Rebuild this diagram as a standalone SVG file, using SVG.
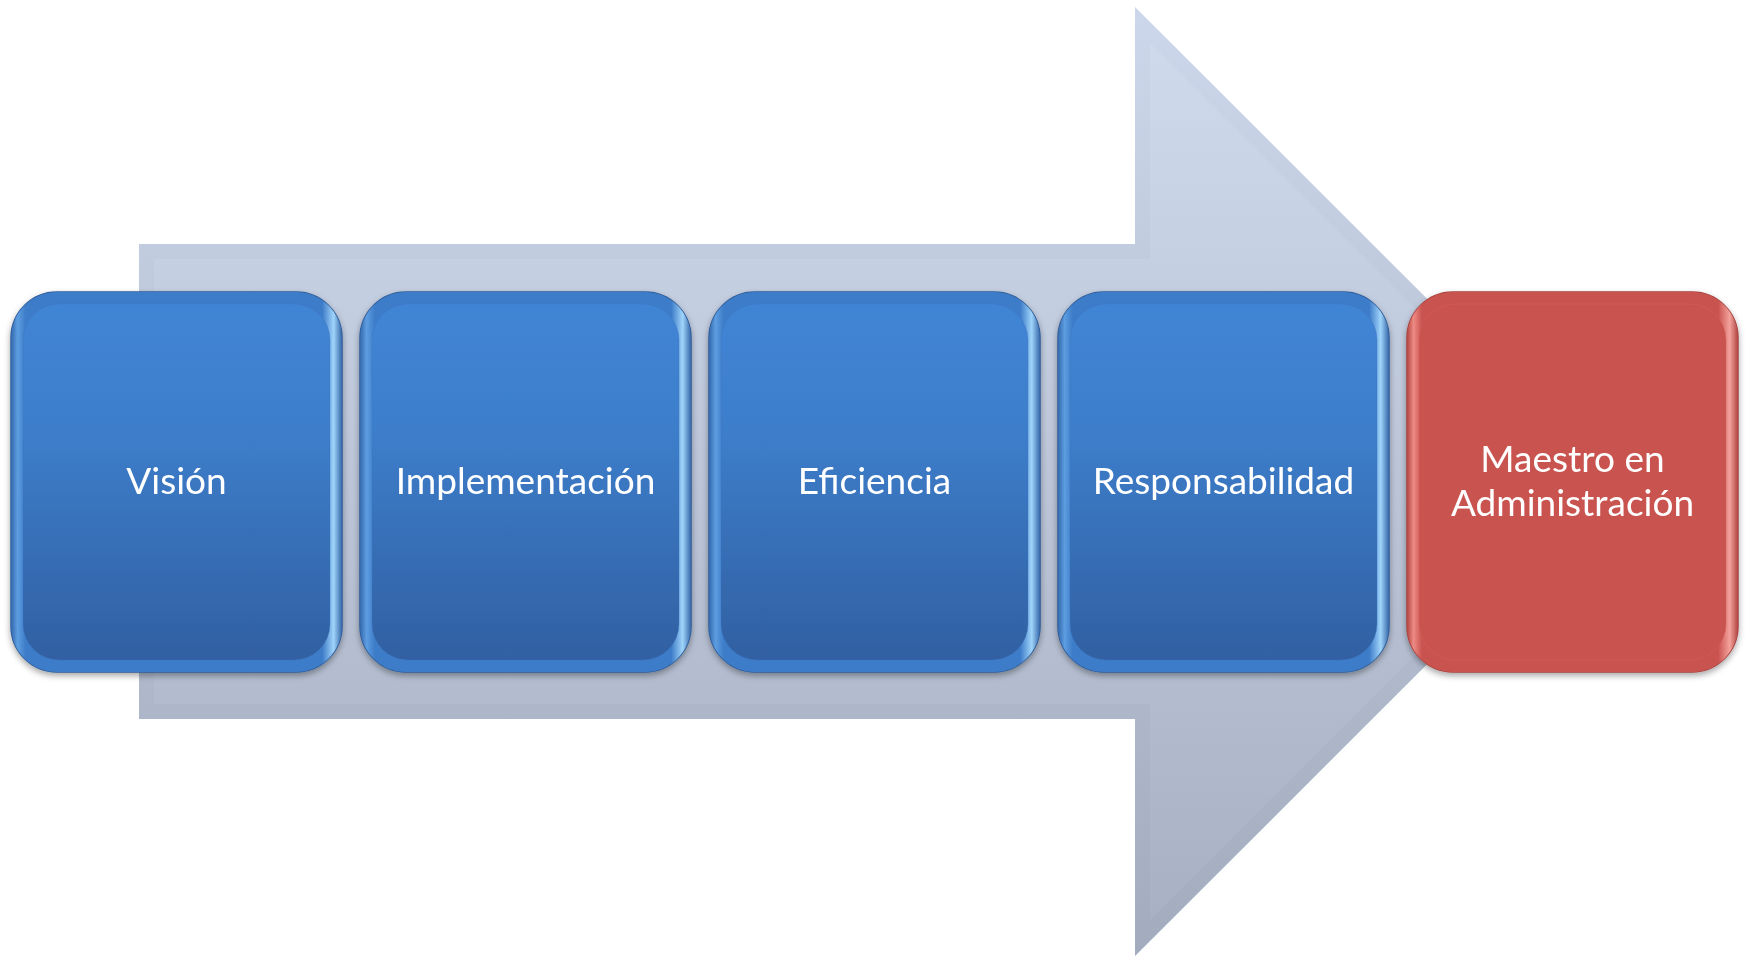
<svg xmlns="http://www.w3.org/2000/svg" width="1750" height="957" viewBox="0 0 1750 957">
<defs>
<style>
.lbl{font-family:Lato,"Open Sans","Liberation Sans",sans-serif;font-size:37px;fill:#ffffff;text-anchor:middle}
.bout{fill:url(#blueV);stroke:#2d5c98;stroke-width:1.5}
.bedge{fill:url(#blueH)}
.bin{fill:url(#blueV);stroke:#3b74bd;stroke-width:1;stroke-opacity:0.35}
.rout{fill:#c4504c;stroke:#a54340;stroke-width:1.5}
.redge{fill:url(#redH)}
.rin{fill:#c9534f;stroke:#d6625d;stroke-width:1;stroke-opacity:0.5}
</style>
<linearGradient id="arrowG" x1="0" y1="7" x2="0" y2="956" gradientUnits="userSpaceOnUse">
<stop offset="0" stop-color="#ccd7eb"/>
<stop offset="1" stop-color="#a3acbe"/>
</linearGradient>
<linearGradient id="arrowIn" x1="0" y1="7" x2="0" y2="956" gradientUnits="userSpaceOnUse">
<stop offset="0" stop-color="#d0dbee"/>
<stop offset="1" stop-color="#a7b0c2"/>
</linearGradient>
<linearGradient id="blueV" x1="0" y1="0" x2="0" y2="1">
<stop offset="0" stop-color="#4185d5"/>
<stop offset="0.35" stop-color="#3d7ecb"/>
<stop offset="1" stop-color="#3160a2"/>
</linearGradient>
<linearGradient id="blueH" x1="0" y1="0" x2="1" y2="0">
<stop offset="0" stop-color="#3468ad"/>
<stop offset="0.02" stop-color="#5d9de0"/>
<stop offset="0.045" stop-color="#3d7bc8"/>
<stop offset="0.94" stop-color="#3d7bc8"/>
<stop offset="0.975" stop-color="#9fd4fa"/>
<stop offset="1" stop-color="#3466a8"/>
</linearGradient>
<linearGradient id="redH" x1="0" y1="0" x2="1" y2="0">
<stop offset="0" stop-color="#b34541"/>
<stop offset="0.02" stop-color="#ee8a84"/>
<stop offset="0.045" stop-color="#c9534f"/>
<stop offset="0.94" stop-color="#c9534f"/>
<stop offset="0.975" stop-color="#f4a29c"/>
<stop offset="1" stop-color="#b04542"/>
</linearGradient>
<filter id="sh" x="-10%" y="-10%" width="120%" height="125%">
<feDropShadow dx="0" dy="3" stdDeviation="3" flood-color="#000000" flood-opacity="0.35"/>
</filter>
</defs>
<rect width="1750" height="957" fill="#ffffff"/>
<g id="connectors">
<polygon points="139,244 1135,244 1135,7 1610,481.5 1135,956 1135,719 139,719" fill="url(#arrowG)"/>
<polygon points="154,259 1150,259 1150,43 1588.5,481.5 1150,920 1150,704 154,704" fill="url(#arrowIn)"/>
</g>
<g id="node-vision" filter="url(#sh)">
<rect class="bout" x="11" y="292" width="331" height="380" rx="46"/>
<rect class="bedge" x="11" y="292" width="331" height="380" rx="46"/>
<rect class="bin" x="23" y="304" width="307" height="356" rx="36"/>
<text class="lbl" x="176.5" y="494">Visión</text>
</g>
<g id="node-implementacion" filter="url(#sh)">
<rect class="bout" x="360" y="292" width="331" height="380" rx="46"/>
<rect class="bedge" x="360" y="292" width="331" height="380" rx="46"/>
<rect class="bin" x="372" y="304" width="307" height="356" rx="36"/>
<text class="lbl" x="525.5" y="494">Implementación</text>
</g>
<g id="node-eficiencia" filter="url(#sh)">
<rect class="bout" x="709" y="292" width="331" height="380" rx="46"/>
<rect class="bedge" x="709" y="292" width="331" height="380" rx="46"/>
<rect class="bin" x="721" y="304" width="307" height="356" rx="36"/>
<text class="lbl" x="874.5" y="494">Eficiencia</text>
</g>
<g id="node-responsabilidad" filter="url(#sh)">
<rect class="bout" x="1058" y="292" width="331" height="380" rx="46"/>
<rect class="bedge" x="1058" y="292" width="331" height="380" rx="46"/>
<rect class="bin" x="1070" y="304" width="307" height="356" rx="36"/>
<text class="lbl" x="1223.5" y="494">Responsabilidad</text>
</g>
<g id="node-maestro" filter="url(#sh)">
<rect class="rout" x="1407" y="292" width="331" height="380" rx="46"/>
<rect class="redge" x="1407" y="292" width="331" height="380" rx="46"/>
<rect class="rin" x="1419" y="304" width="307" height="356" rx="36"/>
<text class="lbl" x="1572.5" y="472">Maestro en</text>
<text class="lbl" x="1572.5" y="516">Administración</text>
</g>
</svg>
